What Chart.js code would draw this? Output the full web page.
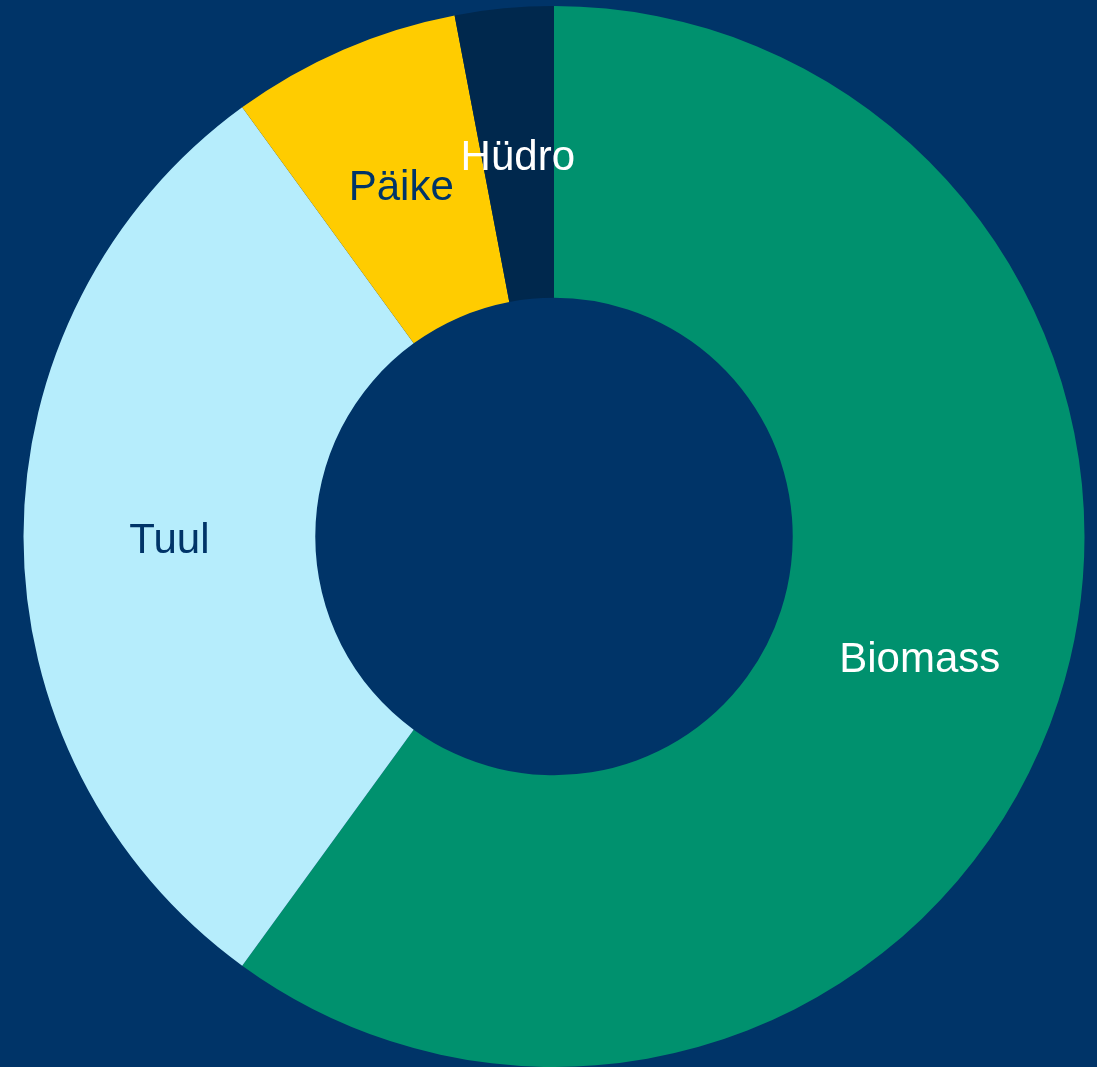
<!DOCTYPE html>
<html>
<head>
<meta charset="utf-8">
<script src="https://cdn.jsdelivr.net/npm/chart.js@4/dist/chart.umd.min.js"></script>
<style>
  html, body { margin: 0; padding: 0; background: #003468; }
  #wrap { width: 1097px; height: 1067px; }
</style>
</head>
<body>
<div id="wrap"><canvas id="chart"></canvas></div>
<script>
var labels = ['Biomass', 'Tuul', 'Päike', 'Hüdro'];
var values = [60, 30, 7, 3];
var colors = ['#00916E', '#B6EDFC', '#FFCC00', '#00284D'];
var labelColors = ['#FFFFFF', '#003468', '#003468', '#FFFFFF'];

// draw the category name in the middle of each slice
var sliceLabels = {
  id: 'sliceLabels',
  afterDatasetsDraw: function (chart) {
    var ctx = chart.ctx;
    var meta = chart.getDatasetMeta(0);
    ctx.save();
    ctx.font = '42px "Liberation Sans", Arial, sans-serif';
    ctx.textAlign = 'center';
    ctx.textBaseline = 'middle';
    meta.data.forEach(function (arc, i) {
      var p = arc.tooltipPosition();
      ctx.fillStyle = labelColors[i];
      ctx.fillText(labels[i], p.x, p.y + 5);
    });
    ctx.restore();
  }
};

new Chart(document.getElementById('chart'), {
  type: 'doughnut',
  data: {
    labels: labels,
    datasets: [{
      data: values,
      backgroundColor: colors,
      borderWidth: 0
    }]
  },
  options: {
    responsive: true,
    maintainAspectRatio: false,
    animation: false,
    cutout: '45%',
    layout: { padding: { left: 11, top: 6, right: 0, bottom: 0 } },
    plugins: {
      legend: { display: false },
      tooltip: { enabled: false }
    }
  },
  plugins: [sliceLabels]
});
</script>
</body>
</html>
